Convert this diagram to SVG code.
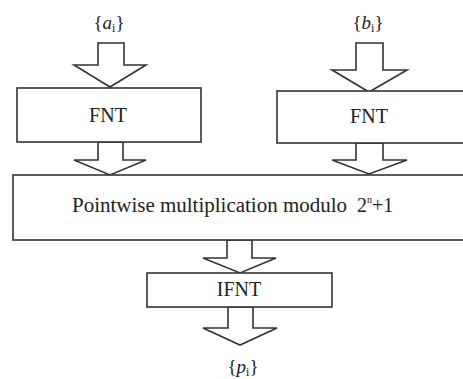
<svg xmlns="http://www.w3.org/2000/svg" width="463" height="379" viewBox="0 0 463 379">
<style>
.box{fill:#fff;stroke:#333;stroke-width:1.6}
.arr{fill:#fff;stroke:#333;stroke-width:1.6;stroke-linejoin:miter}
text{font-family:'Liberation Serif','Times New Roman','DejaVu Serif',serif;fill:#222}
.t{font-size:20px;text-anchor:middle}
.v{font-size:19px;text-anchor:middle}
</style>
<rect width="463" height="379" fill="#fff"/>
<g id="connectors">
<polygon class="arr" points="98,43 124,43 124,65 146,65 110,87 74,65 98,65"/>
<polygon class="arr" points="98,142 123,142 123,160 146,160 110,175 74,160 98,160"/>
<polygon class="arr" points="356,43 383,43 383,70 407,70 369,92 332,70 356,70"/>
<polygon class="arr" points="356,143 383,143 383,160 407,160 369,174 332,160 356,160"/>
<polygon class="arr" points="227,240 252,240 252,258 276,258 240,273 203,258 227,258"/>
<polygon class="arr" points="228,307 253,307 253,328 277,328 240,345 203,328 228,328"/>
</g>
<g id="in-a"><text class="v" x="109" y="29">{<tspan font-style="italic">a</tspan><tspan font-size="12" dy="3">i</tspan><tspan dy="-3">}</tspan></text></g>
<g id="in-b"><text class="v" x="368" y="29">{<tspan font-style="italic">b</tspan><tspan font-size="12" dy="3">i</tspan><tspan dy="-3">}</tspan></text></g>
<g id="fnt1"><rect class="box" x="17" y="88" width="184" height="54"/><text class="t" x="108" y="122">FNT</text></g>
<g id="fnt2"><rect class="box" x="277" y="91" width="190" height="52"/><text class="t" x="369" y="123">FNT</text></g>
<g id="mult"><rect class="box" x="13" y="175" width="460" height="65"/>
<text class="t" x="72" y="212" style="text-anchor:start"><tspan textLength="275" lengthAdjust="spacingAndGlyphs">Pointwise multiplication modulo</tspan><tspan x="357">2</tspan><tspan font-size="10" dy="-9">n</tspan><tspan dy="9">+1</tspan></text></g>
<g id="ifnt"><rect class="box" x="147" y="273" width="185" height="34"/><text class="t" x="239" y="296">IFNT</text></g>
<g id="out-p"><text class="v" x="243" y="373">{<tspan font-style="italic">p</tspan><tspan font-size="12" dy="3">i</tspan><tspan dy="-3">}</tspan></text></g>
</svg>
